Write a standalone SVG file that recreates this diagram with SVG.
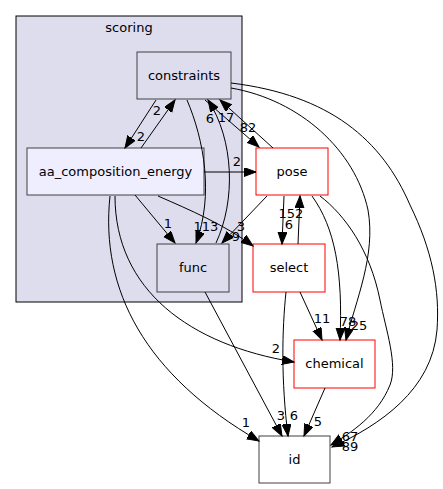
<svg xmlns="http://www.w3.org/2000/svg" width="443" height="489" viewBox="0 0 443 489">
<style>
text{font-family:"DejaVu Sans","Liberation Sans",sans-serif;font-size:13px;fill:#000}
.n text{text-anchor:middle}
.lbl{text-anchor:middle}
.e path{fill:none;stroke:#000;stroke-width:1;marker-end:url(#ah)}
.in{fill:#ddddee;stroke:#404040}
.cur{fill:#eeeeff;stroke:#404040}
.ext{fill:#ffffff;stroke:#ff0000}
.plain{fill:#ffffff;stroke:#404040}
</style>
<defs>
<marker id="ah" markerWidth="14" markerHeight="10" refX="12" refY="4.5" orient="auto" markerUnits="userSpaceOnUse">
<path d="M0,0 L12,4.5 L0,9 z" fill="#000" stroke="#000"/>
</marker>
</defs>
<rect width="443" height="489" fill="#fff"/>
<g id="cluster_scoring">
<rect x="16" y="16" width="226" height="286" fill="#ddddee" stroke="#000"/>
<text x="129" y="32" text-anchor="middle">scoring</text>
</g>
<g id="constraints" class="n"><rect class="in" x="137" y="52" width="94" height="47"/><text x="184" y="80">constraints</text></g>
<g id="aa_composition_energy" class="n"><rect class="cur" x="27" y="148" width="177" height="47"/><text x="115.5" y="176">aa_composition_energy</text></g>
<g id="func" class="n"><rect class="in" x="157" y="244" width="72" height="48"/><text x="193" y="272">func</text></g>
<g id="pose" class="n"><rect class="ext" x="256" y="148" width="72" height="47"/><text x="292" y="176">pose</text></g>
<g id="select" class="n"><rect class="ext" x="253" y="244" width="72" height="48"/><text x="289" y="272">select</text></g>
<g id="chemical" class="n"><rect class="ext" x="294" y="340" width="81" height="48"/><text x="334.5" y="368">chemical</text></g>
<g id="id" class="n"><rect class="plain" x="259" y="436" width="71" height="47"/><text x="294.5" y="464">id</text></g>
<g id="edges" class="e">
<path d="M156,100 L125,148"/>
<path d="M141,148 L175,100"/>
<path d="M204,172 L256,172"/>
<path d="M135,195 L175,243"/>
<path d="M187,100 C204,140 214,195 196,243"/>
<path d="M216,243 C236,200 234,140 208,100"/>
<path d="M273,148 L220,100"/>
<path d="M205,100 L259,147"/>
<path d="M158,196 C190,210 225,225 253,246"/>
<path d="M267,196 L222,243"/>
<path d="M284,196 L282,244"/>
<path d="M298,244 L300,196"/>
<path d="M312,196 C335,228 343,272 340,340"/>
<path d="M231,88 C300,100 355,150 368,210 C376,255 356,300 346,340"/>
<path d="M320,196 C345,215 370,250 380,300 C386,330 398,365 390,385 C378,415 352,432 331,445"/>
<path d="M231,83 C330,95 382,140 410,205 C432,250 440,290 437,330 C432,390 380,425 332,447"/>
<path d="M300,292 L322,340"/>
<path d="M286,292 C282,330 281,380 288,436"/>
<path d="M205,292 L282,436"/>
<path d="M325,388 L304,436"/>
<path d="M115,196 C115,290 190,345 294,362"/>
<path d="M110,196 C100,290 145,375 259,441"/>
</g>
<g id="labels">
<text class="lbl" x="157" y="114.5">2</text>
<text class="lbl" x="141" y="141">2</text>
<text class="lbl" x="237" y="166">2</text>
<text class="lbl" x="168" y="228">1</text>
<text class="lbl" x="206" y="231">113</text>
<text class="lbl" x="210" y="123">6</text>
<text class="lbl" x="226" y="122">17</text>
<text class="lbl" x="248" y="132">82</text>
<text class="lbl" x="241" y="231">3</text>
<text class="lbl" x="236" y="241">9</text>
<text class="lbl" x="289" y="229">6</text>
<text class="lbl" x="291" y="218">152</text>
<text class="lbl" x="348" y="326">78</text>
<text class="lbl" x="359" y="330">25</text>
<text class="lbl" x="350" y="441">67</text>
<text class="lbl" x="350" y="451">89</text>
<text class="lbl" x="322" y="323">11</text>
<text class="lbl" x="294" y="420">6</text>
<text class="lbl" x="281" y="420">3</text>
<text class="lbl" x="318" y="426">5</text>
<text class="lbl" x="276" y="353">2</text>
<text class="lbl" x="246" y="427">1</text>
</g>
</svg>
